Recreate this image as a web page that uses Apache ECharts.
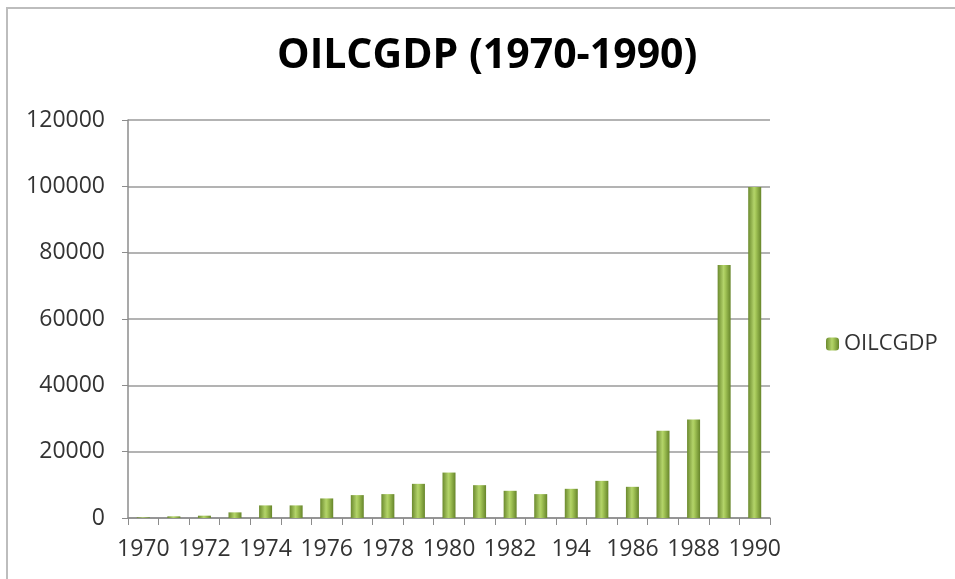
<!DOCTYPE html>
<html>
<head>
<meta charset="utf-8">
<script src="https://cdn.jsdelivr.net/npm/echarts@6/dist/echarts.min.js"></script>
<style>html,body{margin:0;padding:0;background:#fff;}#c{width:955px;height:579px;}</style>
</head>
<body>
<div id="c"></div>
<script>
const titleText = 'OILCGDP (1970-1990)';
const seriesName = 'OILCGDP';
const categories = ['1970','1971','1972','1973','1974','1975','1976','1977','1978','1979','1980','1981','1982','1983','194','1985','1986','1987','1988','1989','1990'];
const values = [200, 500, 700, 1700, 3800, 3800, 5900, 6900, 7200, 10300, 13700, 9900, 8200, 7200, 8800, 11200, 9400, 26300, 29700, 76300, 99800];
const yTicks = { min: 0, max: 120000, interval: 20000 };

const chart = echarts.init(document.getElementById('c'), null, {renderer: 'canvas'});
const barGrad = new echarts.graphic.LinearGradient(0, 0, 1, 0, [
  {offset: 0, color: '#6b8a2e'},
  {offset: 0.45, color: '#b3d36a'},
  {offset: 0.55, color: '#a9cb5c'},
  {offset: 1, color: '#66852a'}
]);
chart.setOption({
  animation: false,
  backgroundColor: '#fff',
  title: {
    text: titleText,
    left: 272,
    top: 31,
    textStyle: {fontFamily: 'Open Sans', fontWeight: 'bold', fontSize: 41, color: '#000'}
  },
  graphic: [{
    type: 'rect', shape: {x: 7, y: 8, width: 1000, height: 1000},
    style: {fill: 'none', stroke: '#bdbdbd', lineWidth: 2}, silent: true, z: 100
  }],
  legend: {
    data: [seriesName],
    left: 821,
    top: 328,
    orient: 'vertical',
    itemWidth: 13,
    itemHeight: 13,
    itemGap: 8,
    textStyle: {fontFamily: 'Open Sans', fontSize: 22, color: '#333'}
  },
  grid: {left: 128, right: 185, top: 120, bottom: 61, containLabel: false},
  xAxis: {
    type: 'category',
    data: categories,
    boundaryGap: true,
    axisLine: {lineStyle: {color: '#8c8c8c', width: 1.5}},
    axisTick: {show: true, interval: 0, length: 7, lineStyle: {color: '#8c8c8c'}},
    axisLabel: {interval: 1, margin: 20, fontFamily: 'Open Sans', fontSize: 23, color: '#333'},
    splitLine: {show: false}
  },
  yAxis: {
    type: 'value',
    min: yTicks.min, max: yTicks.max, interval: yTicks.interval,
    axisLine: {show: true, lineStyle: {color: '#8c8c8c', width: 1.5}},
    axisTick: {show: true, length: 6, lineStyle: {color: '#8c8c8c'}},
    axisLabel: {margin: 23, fontFamily: 'Open Sans', fontSize: 23, color: '#333', formatter: function (v) { return String(v); }},
    splitLine: {show: true, lineStyle: {color: '#9a9a9a', width: 1.5}}
  },
  series: [{
    name: seriesName,
    type: 'bar',
    data: values,
    barWidth: 13,
    itemStyle: {color: barGrad}
  }]
});
</script>
</body>
</html>
